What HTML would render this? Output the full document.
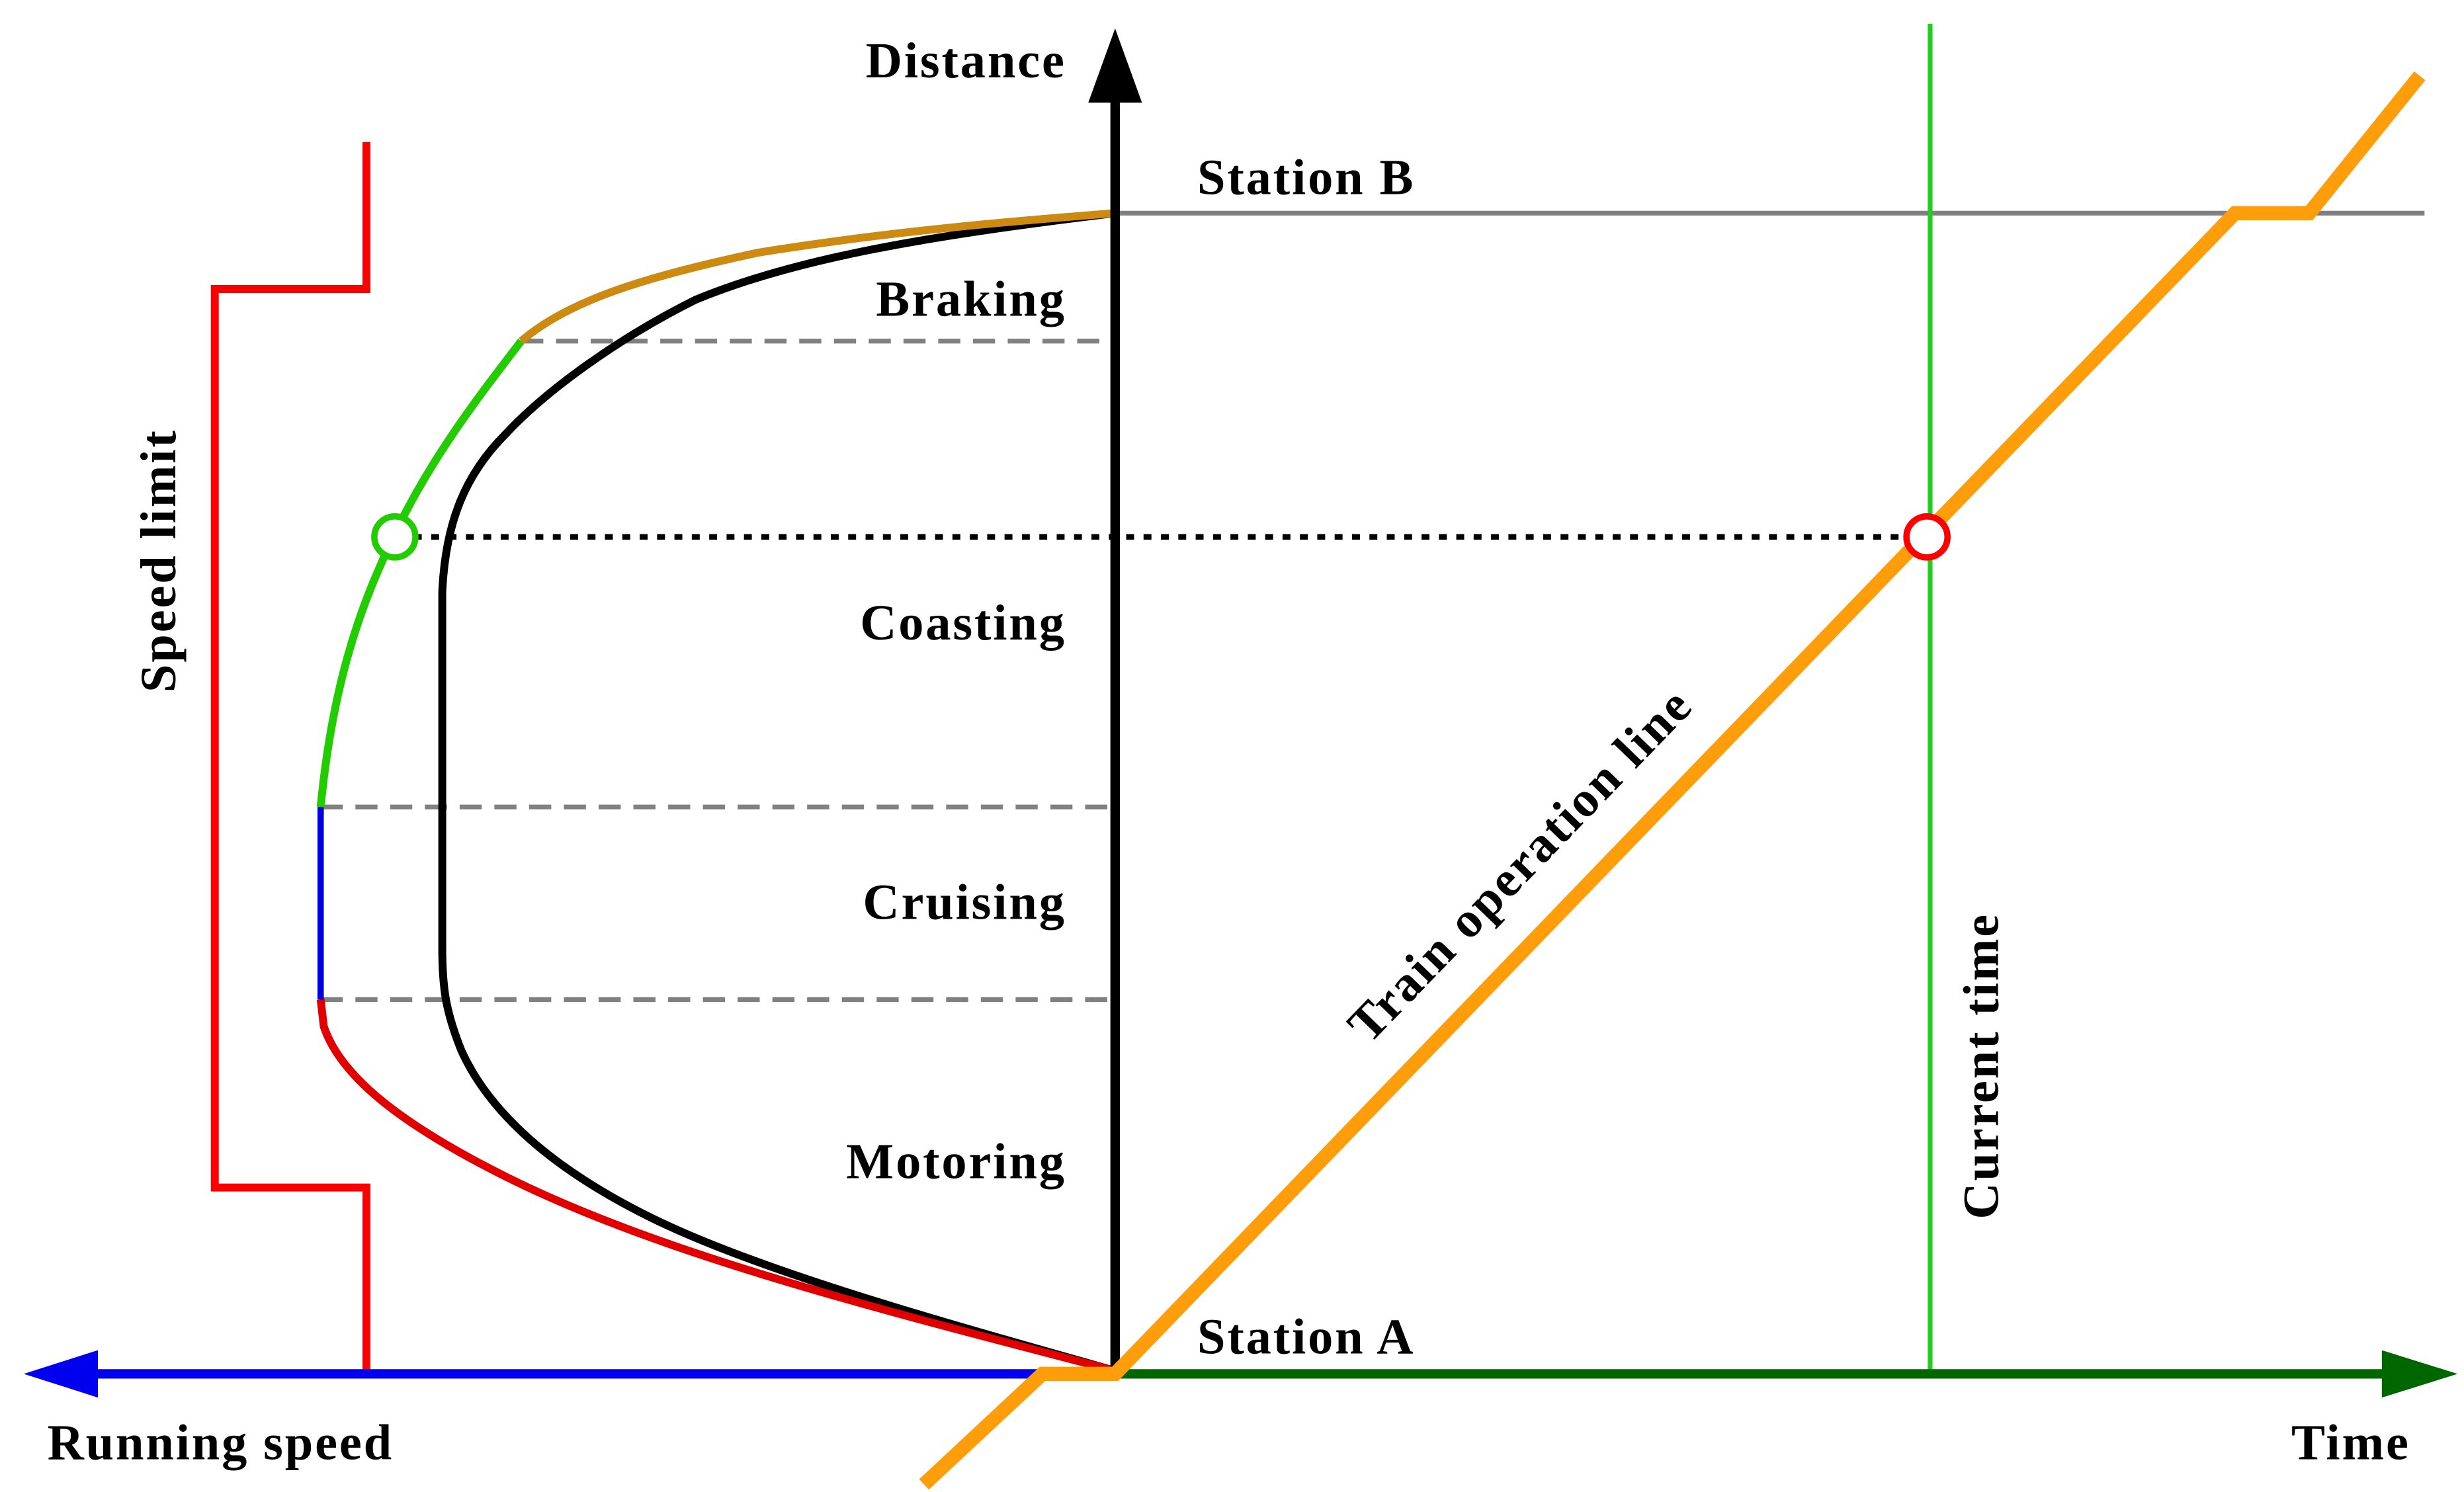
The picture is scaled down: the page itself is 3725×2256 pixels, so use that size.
<!DOCTYPE html>
<html><head><meta charset="utf-8"><style>html,body{margin:0;padding:0;background:#fff}svg{display:block}text{font-family:"Liberation Serif",serif;font-weight:bold;font-size:32px;letter-spacing:1.2px;fill:#000}</style></head>
<body>
<svg width="3725" height="2256" viewBox="0 0 1560 944.8" xmlns="http://www.w3.org/2000/svg">
<rect width="1560" height="945" fill="#fff"/>
<line x1="706" y1="135" x2="1535" y2="135" stroke="#808080" stroke-width="3"/>
<line x1="1222" y1="15" x2="1222" y2="870" stroke="#22cc22" stroke-width="3"/>
<g stroke="#808080" stroke-width="3" stroke-dasharray="14,8">
<line x1="330" y1="216" x2="706" y2="216"/>
<line x1="203" y1="511" x2="706" y2="511"/>
<line x1="203" y1="633" x2="706" y2="633"/>
</g>
<line x1="262" y1="340" x2="1207" y2="340" stroke="#000" stroke-width="3.5" stroke-dasharray="5,6"/>
<polyline points="232,90 232,183 136,183 136,752 232,752 232,870" fill="none" stroke="#ff0000" stroke-width="5"/>
<path d="M706,868 C600,838 480,805 410,770 C350,740 310,705 292,665 C282,640 280,625 280,600 L280,375 C282,330 295,300 320,275 C345,248 390,215 440,190 C500,165 580,150 706,135" fill="none" stroke="#000" stroke-width="5"/>
<path d="M706,868 C560,830 420,795 320,745 C250,710 215,680 205,650 L203,633" fill="none" stroke="#e00000" stroke-width="5"/>
<line x1="203" y1="633" x2="203" y2="511" stroke="#0000dd" stroke-width="4"/>
<path d="M203,511 C208,460 218,410 240,360 C265,300 300,255 330,216" fill="none" stroke="#22cc00" stroke-width="5"/>
<path d="M330,216 C360,190 410,175 480,160 C560,147 640,140 706,135" fill="none" stroke="#cc8a10" stroke-width="5"/>
<line x1="60" y1="870" x2="706" y2="870" stroke="#0000ee" stroke-width="6"/>
<polygon points="15,870 62,855 62,885" fill="#0000ee"/>
<line x1="706" y1="870" x2="1510" y2="870" stroke="#006600" stroke-width="6"/>
<polygon points="1556,870 1508,855 1508,885" fill="#006600"/>
<line x1="706" y1="870" x2="706" y2="62" stroke="#000" stroke-width="6"/>
<polygon points="706,18 689,65 723,65" fill="#000"/>
<polyline points="585,940 660,870 706,870 1415,135 1462,135 1532,48" fill="none" stroke="#ff9e0a" stroke-width="9"/>
<circle cx="1220" cy="340" r="13" fill="#fff" stroke="#ff0000" stroke-width="4"/>
<circle cx="250" cy="340" r="13" fill="#fff" stroke="#22cc00" stroke-width="4"/>
<text x="675" y="49" text-anchor="end">Distance</text>
<text x="758" y="123">Station B</text>
<text x="758" y="857">Station A</text>
<text x="675" y="200" text-anchor="end">Braking</text>
<text x="675" y="405" text-anchor="end">Coasting</text>
<text x="675" y="582" text-anchor="end">Cruising</text>
<text x="675" y="746" text-anchor="end">Motoring</text>
<text x="30" y="924">Running speed</text>
<text x="1526" y="924" text-anchor="end">Time</text>
<text transform="translate(111,355) rotate(-90)" text-anchor="middle">Speed limit</text>
<text transform="translate(1265,675) rotate(-90)" text-anchor="middle">Current time</text>
<text transform="translate(970,555) rotate(-46)" text-anchor="middle">Train operation line</text>
</svg>
</body></html>
